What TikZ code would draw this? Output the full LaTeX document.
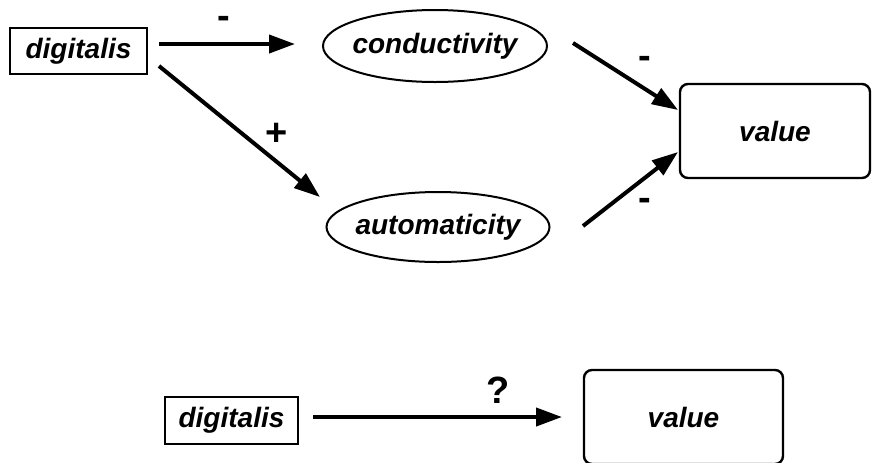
\documentclass[tikz,border=0pt]{standalone}
\usepackage{fontspec}
\setmainfont{Liberation Sans}
\usetikzlibrary{shapes.geometric,arrows.meta}

\tikzset{
  lbl/.style={font=\fontsize{14}{16}\selectfont\bfseries\itshape},
  sign/.style={font=\fontsize{19}{21}\selectfont\bfseries, inner sep=0pt},
  sqbox/.style={lbl, draw, line width=1.3pt, inner sep=0pt},
  oval/.style={lbl, draw, ellipse, line width=1pt, inner xsep=-4pt, inner ysep=0pt},
  rbox/.style={lbl, draw, rounded corners=4pt, line width=1.2pt, inner sep=0pt},
  link/.style={line width=2pt, -{Triangle[length=13pt,width=9pt]}},
}

\begin{document}
\begin{tikzpicture}[x=0.5pt, y=-0.5pt]
  \useasboundingbox (0,0) rectangle (872,462);

  % causal model
  \node[sqbox, minimum width=68.5pt, minimum height=23pt] (dig1) at (78.5,51) {digitalis};
  \node[oval, minimum width=112pt, minimum height=36pt] (cond) at (435,46) {conductivity};
  \node[oval, minimum width=111.5pt, minimum height=35pt] (auto) at (438,227) {automaticity};
  \node[rbox, minimum width=95pt, minimum height=47pt] (val1) at (775,131) {value};

  \coordinate (a1s) at (159,44);   \coordinate (a1e) at (295,44);
  \coordinate (a2s) at (159,66);   \coordinate (a2e) at (320,197);
  \coordinate (a3s) at (573,43);   \coordinate (a3e) at (678,110);
  \coordinate (a4s) at (583,226);  \coordinate (a4e) at (678,152);

  \draw[link] (a1s) -- (a1e);
  \draw[link] (a2s) -- (a2e);
  \draw[link] (a3s) -- (a3e);
  \draw[link] (a4s) -- (a4e);

  \node[sign] (s1) at (224,22) {-};
  \node[sign] (s2) at (277,134) {+};
  \node[sign] (s3) at (645,62) {-};
  \node[sign] (s4) at (645,204) {-};

  % overall effect
  \node[sqbox, minimum width=66.5pt, minimum height=23.5pt] (dig2) at (231.5,420.5) {digitalis};
  \node[rbox, minimum width=99.5pt, minimum height=47pt] (val2) at (683.5,417) {value};

  \coordinate (a5s) at (313,417);  \coordinate (a5e) at (562,417);
  \draw[link] (a5s) -- (a5e);
  \node[sign] (s5) at (498,390) {?};
\end{tikzpicture}
\end{document}
